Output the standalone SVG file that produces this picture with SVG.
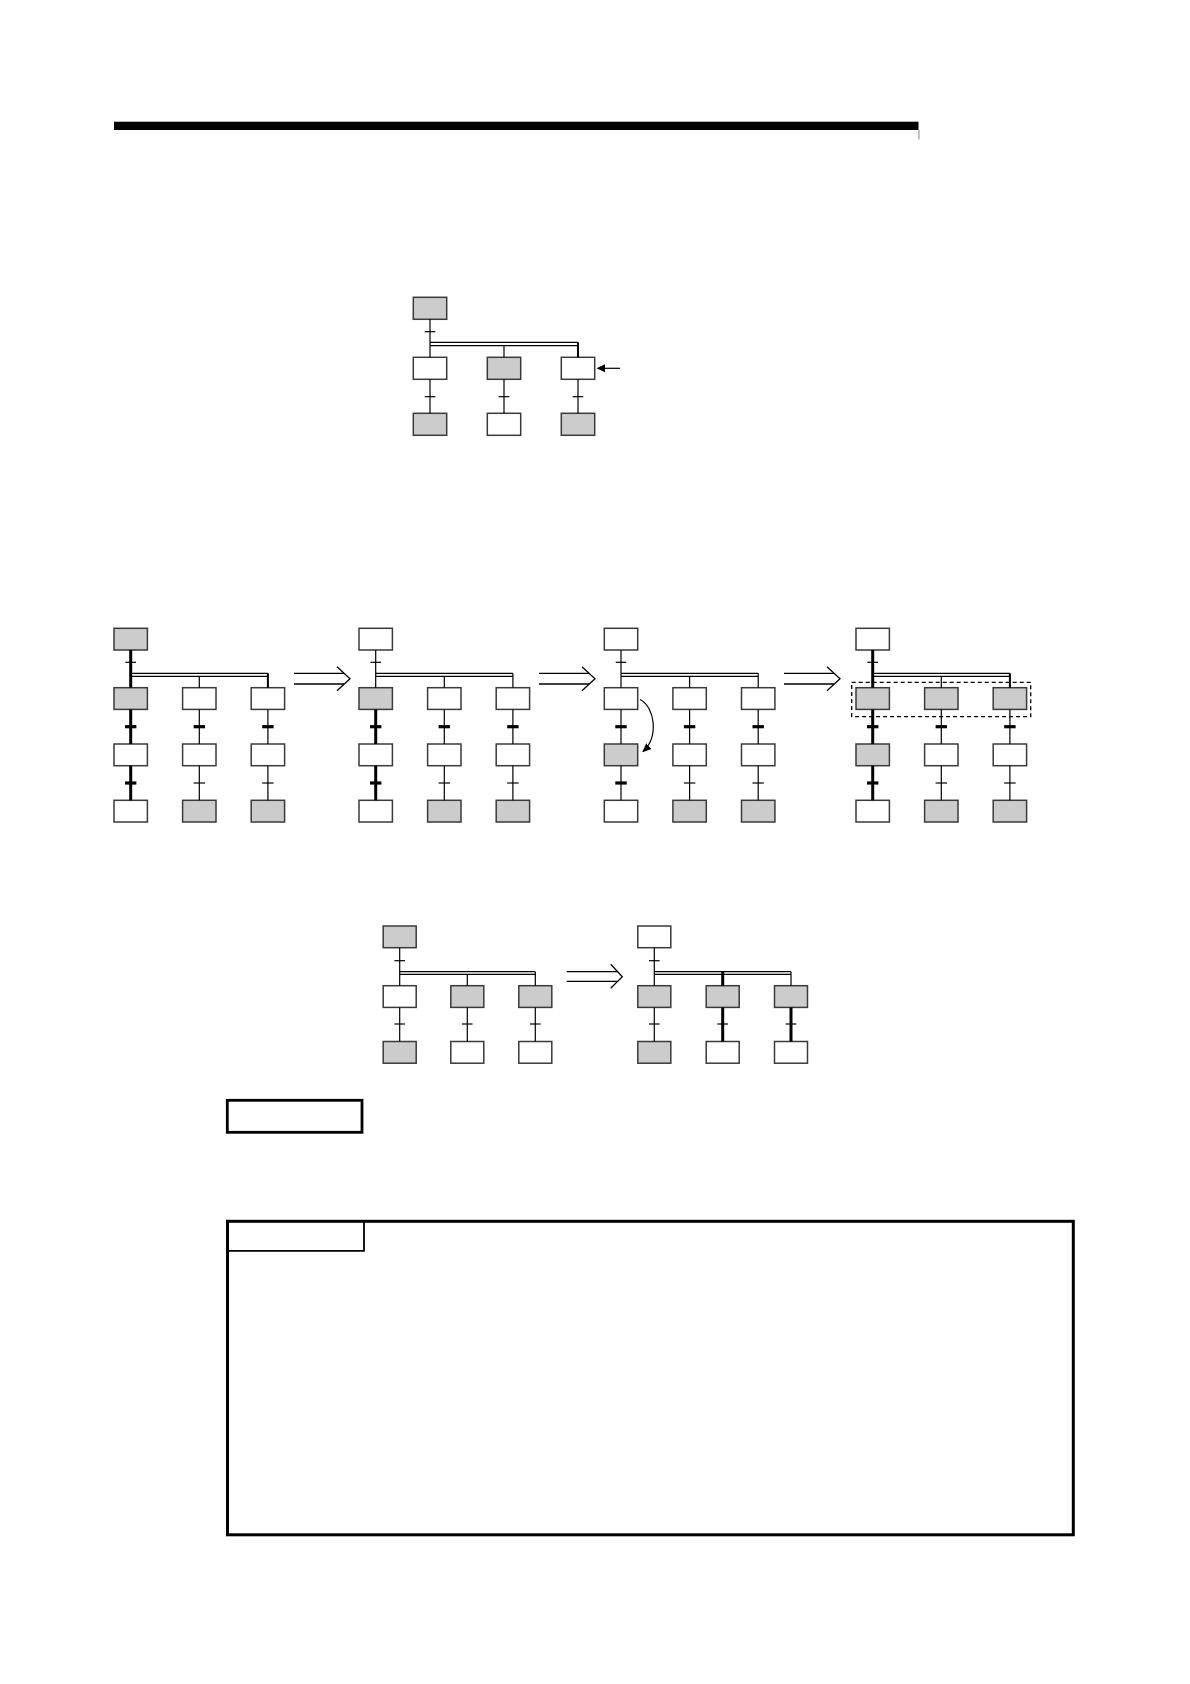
<svg xmlns="http://www.w3.org/2000/svg" width="1190" height="1684" viewBox="0 0 1190 1684">
<style>
.b{stroke:#3a3a3a;stroke-width:1.5}
.g{fill:#cccccc}
.w{fill:#ffffff}
.ln{stroke:#000;stroke-width:1.2;fill:none}
.th{stroke:#000;stroke-width:3;fill:none}
.md{stroke:#000;stroke-width:2;fill:none}
.tk{stroke:#000;stroke-width:3.2;fill:none}
.tn{stroke:#000;stroke-width:1.2;fill:none}
.dbl{stroke:#000;stroke-width:1.3;fill:none}
.frame{fill:none;stroke:#000}
</style>
<defs>
<marker id="ah" markerWidth="10" markerHeight="10" refX="8" refY="5" orient="auto" markerUnits="userSpaceOnUse">
<path d="M0,1 L9,5 L0,9 Z" fill="#000"/>
</marker>
</defs>
<rect width="1190" height="1684" fill="#fff"/>

<!-- header bar -->
<g id="header">
<rect x="114" y="121.7" width="804.5" height="8.3" fill="#000"/>
<line x1="919" y1="130" x2="919" y2="139.5" stroke="#888" stroke-width="1"/>
</g>

<!-- ===== Diagram 1 ===== -->
<g id="d1-nodes">
<g id="d1-top"><rect class="b g" x="413.3" y="297.3" width="33.4" height="22"/></g>
<g id="d1-r2c1"><rect class="b w" x="413.3" y="357.3" width="33.4" height="22"/></g>
<g id="d1-r2c2"><rect class="b g" x="487.3" y="357.3" width="33.4" height="22"/></g>
<g id="d1-r2c3"><rect class="b w" x="561.3" y="357.3" width="33.4" height="22"/></g>
<g id="d1-r3c1"><rect class="b g" x="413.3" y="413.3" width="33.4" height="22"/></g>
<g id="d1-r3c2"><rect class="b w" x="487.3" y="413.3" width="33.4" height="22"/></g>
<g id="d1-r3c3"><rect class="b g" x="561.3" y="413.3" width="33.4" height="22"/></g>
</g>
<g id="d1-connectors">
<line class="ln" x1="430" y1="319.3" x2="430" y2="357.3"/>
<line class="tn" x1="424.7" y1="331.7" x2="435.3" y2="331.7"/>
<line class="dbl" x1="430" y1="342.3" x2="578" y2="342.3" stroke-width="1.6"/>
<line class="dbl" x1="430" y1="345.7" x2="578" y2="345.7" stroke-width="1.6"/>
<line class="ln" x1="504" y1="345.7" x2="504" y2="357.3"/>
<line class="md" x1="578" y1="342.3" x2="578" y2="357.3"/>
<line class="ln" x1="430" y1="379.3" x2="430" y2="413.3"/>
<line class="ln" x1="504" y1="379.3" x2="504" y2="413.3"/>
<line class="ln" x1="578" y1="379.3" x2="578" y2="413.3"/>
<line class="tn" x1="424.7" y1="396.7" x2="435.3" y2="396.7" stroke-width="1.5"/>
<line class="tn" x1="498.7" y1="396.7" x2="509.3" y2="396.7" stroke-width="1.5"/>
<line class="tn" x1="572.7" y1="396.7" x2="583.3" y2="396.7" stroke-width="1.5"/>
<line class="ln" x1="620" y1="368.3" x2="604" y2="368.3" stroke-width="1.4"/>
<polygon points="596.5,368.3 605,364.3 605,372.3" fill="#000"/>
</g>

<!-- ===== Diagram 2 : stage 1 ===== -->
<g id="s1-nodes">
<g id="s1-top"><rect class="b g" x="114" y="628.3" width="33.4" height="21.7"/></g>
<g id="s1-r2c1"><rect class="b g" x="114" y="687.7" width="33.4" height="21.7"/></g>
<g id="s1-r2c2"><rect class="b w" x="182.6" y="687.7" width="33.4" height="21.7"/></g>
<g id="s1-r2c3"><rect class="b w" x="251.2" y="687.7" width="33.4" height="21.7"/></g>
<g id="s1-r3c1"><rect class="b w" x="114" y="744" width="33.4" height="21.7"/></g>
<g id="s1-r3c2"><rect class="b w" x="182.6" y="744" width="33.4" height="21.7"/></g>
<g id="s1-r3c3"><rect class="b w" x="251.2" y="744" width="33.4" height="21.7"/></g>
<g id="s1-r4c1"><rect class="b w" x="114" y="800.3" width="33.4" height="21.7"/></g>
<g id="s1-r4c2"><rect class="b g" x="182.6" y="800.3" width="33.4" height="21.7"/></g>
<g id="s1-r4c3"><rect class="b g" x="251.2" y="800.3" width="33.4" height="21.7"/></g>
</g>
<g id="s1-connectors">
<line class="th" x1="130.7" y1="650" x2="130.7" y2="687.7"/>
<line class="tn" x1="125.4" y1="662.3" x2="136" y2="662.3"/>
<line class="dbl" x1="130.7" y1="673.3" x2="267.9" y2="673.3"/>
<line class="dbl" x1="130.7" y1="676.3" x2="267.9" y2="676.3"/>
<line class="ln" x1="199.3" y1="676.3" x2="199.3" y2="687.7"/>
<line class="md" x1="267.9" y1="673.3" x2="267.9" y2="687.7"/>
<line class="th" x1="130.7" y1="709.4" x2="130.7" y2="744"/>
<line class="ln" x1="199.3" y1="709.4" x2="199.3" y2="744"/>
<line class="ln" x1="267.9" y1="709.4" x2="267.9" y2="744"/>
<line class="tk" x1="125" y1="726.7" x2="136.4" y2="726.7"/>
<line class="tk" x1="193.6" y1="726.7" x2="205" y2="726.7"/>
<line class="tk" x1="262.2" y1="726.7" x2="273.6" y2="726.7"/>
<line class="th" x1="130.7" y1="765.7" x2="130.7" y2="800.3"/>
<line class="ln" x1="199.3" y1="765.7" x2="199.3" y2="800.3"/>
<line class="ln" x1="267.9" y1="765.7" x2="267.9" y2="800.3"/>
<line class="tk" x1="125" y1="783" x2="136.4" y2="783"/>
<line class="tn" x1="193.6" y1="783" x2="205" y2="783"/>
<line class="tn" x1="262.2" y1="783" x2="273.6" y2="783"/>
</g>

<!-- stage 2 -->
<g id="s2-nodes">
<g id="s2-top"><rect class="b w" x="359" y="628.3" width="33.4" height="21.7"/></g>
<g id="s2-r2c1"><rect class="b g" x="359" y="687.7" width="33.4" height="21.7"/></g>
<g id="s2-r2c2"><rect class="b w" x="427.6" y="687.7" width="33.4" height="21.7"/></g>
<g id="s2-r2c3"><rect class="b w" x="496.2" y="687.7" width="33.4" height="21.7"/></g>
<g id="s2-r3c1"><rect class="b w" x="359" y="744" width="33.4" height="21.7"/></g>
<g id="s2-r3c2"><rect class="b w" x="427.6" y="744" width="33.4" height="21.7"/></g>
<g id="s2-r3c3"><rect class="b w" x="496.2" y="744" width="33.4" height="21.7"/></g>
<g id="s2-r4c1"><rect class="b w" x="359" y="800.3" width="33.4" height="21.7"/></g>
<g id="s2-r4c2"><rect class="b g" x="427.6" y="800.3" width="33.4" height="21.7"/></g>
<g id="s2-r4c3"><rect class="b g" x="496.2" y="800.3" width="33.4" height="21.7"/></g>
</g>
<g id="s2-connectors">
<line class="ln" x1="375.7" y1="650" x2="375.7" y2="687.7"/>
<line class="tn" x1="370.4" y1="662.3" x2="381" y2="662.3"/>
<line class="dbl" x1="375.7" y1="673.3" x2="512.9" y2="673.3"/>
<line class="dbl" x1="375.7" y1="676.3" x2="512.9" y2="676.3"/>
<line class="ln" x1="444.3" y1="676.3" x2="444.3" y2="687.7"/>
<line class="ln" x1="512.9" y1="673.3" x2="512.9" y2="687.7"/>
<line class="th" x1="375.7" y1="709.4" x2="375.7" y2="744"/>
<line class="ln" x1="444.3" y1="709.4" x2="444.3" y2="744"/>
<line class="ln" x1="512.9" y1="709.4" x2="512.9" y2="744"/>
<line class="tk" x1="370" y1="726.7" x2="381.4" y2="726.7"/>
<line class="tk" x1="438.6" y1="726.7" x2="450" y2="726.7"/>
<line class="tk" x1="507.2" y1="726.7" x2="518.6" y2="726.7"/>
<line class="th" x1="375.7" y1="765.7" x2="375.7" y2="800.3"/>
<line class="ln" x1="444.3" y1="765.7" x2="444.3" y2="800.3"/>
<line class="ln" x1="512.9" y1="765.7" x2="512.9" y2="800.3"/>
<line class="tk" x1="370" y1="783" x2="381.4" y2="783"/>
<line class="tn" x1="438.6" y1="783" x2="450" y2="783"/>
<line class="tn" x1="507.2" y1="783" x2="518.6" y2="783"/>
</g>

<!-- stage 3 -->
<g id="s3-nodes">
<g id="s3-top"><rect class="b w" x="604.3" y="628.3" width="33.4" height="21.7"/></g>
<g id="s3-r2c1"><rect class="b w" x="604.3" y="687.7" width="33.4" height="21.7"/></g>
<g id="s3-r2c2"><rect class="b w" x="672.9" y="687.7" width="33.4" height="21.7"/></g>
<g id="s3-r2c3"><rect class="b w" x="741.5" y="687.7" width="33.4" height="21.7"/></g>
<g id="s3-r3c1"><rect class="b g" x="604.3" y="744" width="33.4" height="21.7"/></g>
<g id="s3-r3c2"><rect class="b w" x="672.9" y="744" width="33.4" height="21.7"/></g>
<g id="s3-r3c3"><rect class="b w" x="741.5" y="744" width="33.4" height="21.7"/></g>
<g id="s3-r4c1"><rect class="b w" x="604.3" y="800.3" width="33.4" height="21.7"/></g>
<g id="s3-r4c2"><rect class="b g" x="672.9" y="800.3" width="33.4" height="21.7"/></g>
<g id="s3-r4c3"><rect class="b g" x="741.5" y="800.3" width="33.4" height="21.7"/></g>
</g>
<g id="s3-connectors">
<line class="ln" x1="621" y1="650" x2="621" y2="687.7"/>
<line class="tn" x1="615.7" y1="662.3" x2="626.3" y2="662.3"/>
<line class="dbl" x1="621" y1="673.3" x2="758.2" y2="673.3"/>
<line class="dbl" x1="621" y1="676.3" x2="758.2" y2="676.3"/>
<line class="ln" x1="689.6" y1="676.3" x2="689.6" y2="687.7"/>
<line class="ln" x1="758.2" y1="673.3" x2="758.2" y2="687.7"/>
<line class="ln" x1="621" y1="709.4" x2="621" y2="744"/>
<line class="ln" x1="689.6" y1="709.4" x2="689.6" y2="744"/>
<line class="ln" x1="758.2" y1="709.4" x2="758.2" y2="744"/>
<line class="tk" x1="615.3" y1="726.7" x2="626.7" y2="726.7"/>
<line class="tk" x1="683.9" y1="726.7" x2="695.3" y2="726.7"/>
<line class="tk" x1="752.5" y1="726.7" x2="763.9" y2="726.7"/>
<line class="ln" x1="621" y1="765.7" x2="621" y2="800.3"/>
<line class="ln" x1="689.6" y1="765.7" x2="689.6" y2="800.3"/>
<line class="ln" x1="758.2" y1="765.7" x2="758.2" y2="800.3"/>
<line class="tk" x1="615.3" y1="783" x2="626.7" y2="783"/>
<line class="tn" x1="683.9" y1="783" x2="695.3" y2="783"/>
<line class="tn" x1="752.5" y1="783" x2="763.9" y2="783"/>
<path class="ln" d="M640,699.5 C655,707 659,737 643,751.5" marker-end="url(#ah)"/>
</g>

<!-- stage 4 -->
<g id="s4-nodes">
<g id="s4-top"><rect class="b w" x="856" y="628.3" width="33.4" height="21.7"/></g>
<g id="s4-r2c1"><rect class="b g" x="856" y="687.7" width="33.4" height="21.7"/></g>
<g id="s4-r2c2"><rect class="b g" x="924.6" y="687.7" width="33.4" height="21.7"/></g>
<g id="s4-r2c3"><rect class="b g" x="993.2" y="687.7" width="33.4" height="21.7"/></g>
<g id="s4-r3c1"><rect class="b g" x="856" y="744" width="33.4" height="21.7"/></g>
<g id="s4-r3c2"><rect class="b w" x="924.6" y="744" width="33.4" height="21.7"/></g>
<g id="s4-r3c3"><rect class="b w" x="993.2" y="744" width="33.4" height="21.7"/></g>
<g id="s4-r4c1"><rect class="b w" x="856" y="800.3" width="33.4" height="21.7"/></g>
<g id="s4-r4c2"><rect class="b g" x="924.6" y="800.3" width="33.4" height="21.7"/></g>
<g id="s4-r4c3"><rect class="b g" x="993.2" y="800.3" width="33.4" height="21.7"/></g>
<g id="s4-group"><rect x="851.7" y="682.3" width="179" height="34.4" fill="none" stroke="#000" stroke-width="1.3" stroke-dasharray="4 3"/></g>
</g>
<g id="s4-connectors">
<line class="th" x1="872.7" y1="650" x2="872.7" y2="687.7"/>
<line class="tn" x1="867.4" y1="662.3" x2="878" y2="662.3"/>
<line class="dbl" x1="872.7" y1="673.3" x2="1009.9" y2="673.3"/>
<line class="dbl" x1="872.7" y1="676.3" x2="1009.9" y2="676.3"/>
<line class="ln" x1="941.3" y1="676.3" x2="941.3" y2="687.7"/>
<line class="md" x1="1009.9" y1="673.3" x2="1009.9" y2="687.7"/>
<line class="th" x1="872.7" y1="709.4" x2="872.7" y2="744"/>
<line class="ln" x1="941.3" y1="709.4" x2="941.3" y2="744"/>
<line class="ln" x1="1009.9" y1="709.4" x2="1009.9" y2="744"/>
<line class="tk" x1="867" y1="726.7" x2="878.4" y2="726.7"/>
<line class="tk" x1="935.6" y1="726.7" x2="947" y2="726.7"/>
<line class="tk" x1="1004.2" y1="726.7" x2="1015.6" y2="726.7"/>
<line class="th" x1="872.7" y1="765.7" x2="872.7" y2="800.3"/>
<line class="ln" x1="941.3" y1="765.7" x2="941.3" y2="800.3"/>
<line class="ln" x1="1009.9" y1="765.7" x2="1009.9" y2="800.3"/>
<line class="tk" x1="867" y1="783" x2="878.4" y2="783"/>
<line class="tn" x1="935.6" y1="783" x2="947" y2="783"/>
<line class="tn" x1="1004.2" y1="783" x2="1015.6" y2="783"/>
</g>

<!-- transition arrows between stages -->
<g id="stage-arrows">
<g id="arrow-1-2">
<line class="dbl" x1="294" y1="673.3" x2="344" y2="673.3"/>
<line class="dbl" x1="294" y1="684" x2="344" y2="684"/>
<polyline class="dbl" points="337,666.7 350,678.7 337,690.7"/>
</g>
<g id="arrow-2-3">
<line class="dbl" x1="539" y1="673.3" x2="589" y2="673.3"/>
<line class="dbl" x1="539" y1="684" x2="589" y2="684"/>
<polyline class="dbl" points="582,666.7 595,678.7 582,690.7"/>
</g>
<g id="arrow-3-4">
<line class="dbl" x1="784" y1="673.3" x2="834" y2="673.3"/>
<line class="dbl" x1="784" y1="684" x2="834" y2="684"/>
<polyline class="dbl" points="827,666.7 840,678.7 827,690.7"/>
</g>
</g>

<!-- ===== Diagram 3 : left ===== -->
<g id="d3l-nodes">
<g id="d3l-top"><rect class="b g" x="383.2" y="926" width="33" height="21.7"/></g>
<g id="d3l-r2c1"><rect class="b w" x="383.2" y="985.7" width="33" height="21.7"/></g>
<g id="d3l-r2c2"><rect class="b g" x="450.8" y="985.7" width="33" height="21.7"/></g>
<g id="d3l-r2c3"><rect class="b g" x="518.8" y="985.7" width="33" height="21.7"/></g>
<g id="d3l-r3c1"><rect class="b g" x="383.2" y="1041.5" width="33" height="21.7"/></g>
<g id="d3l-r3c2"><rect class="b w" x="450.8" y="1041.5" width="33" height="21.7"/></g>
<g id="d3l-r3c3"><rect class="b w" x="518.8" y="1041.5" width="33" height="21.7"/></g>
</g>
<g id="d3l-connectors">
<line class="ln" x1="399.7" y1="947.7" x2="399.7" y2="985.7"/>
<line class="tn" x1="394.4" y1="960.7" x2="405" y2="960.7"/>
<line class="dbl" x1="399.7" y1="971.7" x2="535.3" y2="971.7"/>
<line class="dbl" x1="399.7" y1="974.3" x2="535.3" y2="974.3"/>
<line class="ln" x1="467.3" y1="974.3" x2="467.3" y2="985.7"/>
<line class="ln" x1="535.3" y1="971.7" x2="535.3" y2="985.7"/>
<line class="ln" x1="399.7" y1="1007.4" x2="399.7" y2="1041.5"/>
<line class="ln" x1="467.3" y1="1007.4" x2="467.3" y2="1041.5"/>
<line class="ln" x1="535.3" y1="1007.4" x2="535.3" y2="1041.5"/>
<line class="tn" x1="394.4" y1="1024" x2="405" y2="1024"/>
<line class="tn" x1="462" y1="1024" x2="472.6" y2="1024"/>
<line class="tn" x1="530" y1="1024" x2="540.6" y2="1024"/>
</g>

<g id="arrow-d3">
<line class="dbl" x1="566.7" y1="971.7" x2="617" y2="971.7"/>
<line class="dbl" x1="566.7" y1="981.3" x2="617" y2="981.3" stroke-width="2.5"/>
<polyline class="dbl" points="610.7,964.3 622.3,976.7 610.7,988.3"/>
</g>

<!-- Diagram 3 : right -->
<g id="d3r-nodes">
<g id="d3r-top"><rect class="b w" x="637.8" y="926" width="33" height="21.7"/></g>
<g id="d3r-r2c1"><rect class="b g" x="637.8" y="985.7" width="33" height="21.7"/></g>
<g id="d3r-r2c2"><rect class="b g" x="706.2" y="985.7" width="33" height="21.7"/></g>
<g id="d3r-r2c3"><rect class="b g" x="774.5" y="985.7" width="33" height="21.7"/></g>
<g id="d3r-r3c1"><rect class="b g" x="637.8" y="1041.5" width="33" height="21.7"/></g>
<g id="d3r-r3c2"><rect class="b w" x="706.2" y="1041.5" width="33" height="21.7"/></g>
<g id="d3r-r3c3"><rect class="b w" x="774.5" y="1041.5" width="33" height="21.7"/></g>
</g>
<g id="d3r-connectors">
<line class="ln" x1="654.3" y1="947.7" x2="654.3" y2="985.7"/>
<line class="tn" x1="649" y1="960.7" x2="659.6" y2="960.7"/>
<line class="dbl" x1="654.3" y1="971.7" x2="791" y2="971.7"/>
<line class="dbl" x1="654.3" y1="974.3" x2="791" y2="974.3"/>
<line class="th" x1="722.7" y1="972" x2="722.7" y2="985.7" stroke-width="2.5"/>
<line class="ln" x1="791" y1="971.7" x2="791" y2="985.7"/>
<line class="ln" x1="654.3" y1="1007.4" x2="654.3" y2="1041.5"/>
<line class="th" x1="722.7" y1="1007.4" x2="722.7" y2="1041.5" stroke-width="2.5"/>
<line class="th" x1="791" y1="1007.4" x2="791" y2="1041.5" stroke-width="2.5"/>
<line class="tn" x1="649" y1="1024" x2="659.6" y2="1024"/>
<line class="tn" x1="717.4" y1="1024" x2="728" y2="1024"/>
<line class="tn" x1="785.7" y1="1024" x2="796.3" y2="1024"/>
</g>

<!-- label box -->
<g id="label-box">
<rect class="frame" x="227.3" y="1100.3" width="134.7" height="32" stroke-width="2.8"/>
</g>

<!-- big framed box with tab -->
<g id="note-box">
<rect class="frame" x="227.5" y="1221.3" width="845.8" height="313.5" stroke-width="3"/>
<polyline class="frame" points="227.5,1250.8 364,1250.8 364,1221.3" stroke-width="1.8"/>
</g>
</svg>
